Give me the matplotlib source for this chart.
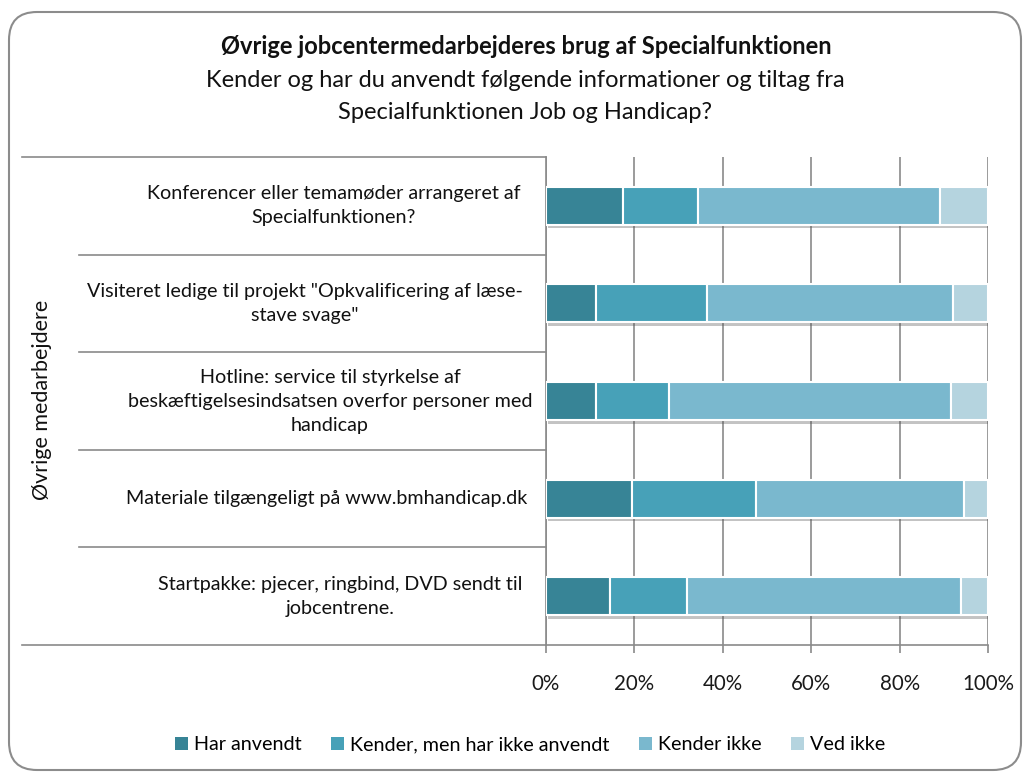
import matplotlib
matplotlib.use("Agg")
import matplotlib.pyplot as plt
import numpy as np
from matplotlib.patches import FancyBboxPatch, Patch
from matplotlib import patheffects as pe
import matplotlib.transforms as mtransforms

plt.rcParams['font.family'] = ['Lato', 'DejaVu Sans']

# ---- data ----
categories = [
    "Konferencer eller temamøder arrangeret af\nSpecialfunktionen?",
    "Visiteret ledige til projekt \"Opkvalificering af læse-\nstave svage\"",
    "Hotline: service til styrkelse af\nbeskæftigelsesindsatsen overfor personer med\nhandicap",
    "Materiale tilgængeligt på www.bmhandicap.dk",
    "Startpakke: pjecer, ringbind, DVD sendt til\njobcentrene.",
]
series_names = ["Har anvendt", "Kender, men har ikke anvendt", "Kender ikke", "Ved ikke"]
har_anvendt = [17.5, 11.4, 11.4, 19.5, 14.5]
kender_ikke_anvendt = [17.0, 25.0, 16.5, 28.0, 17.3]
kender_ikke = [54.6, 55.7, 63.8, 47.0, 62.0]
ved_ikke = [10.9, 7.9, 8.3, 5.5, 6.2]
tick_values = [0, 20, 40, 60, 80, 100]
tick_labels = ["0%", "20%", "40%", "60%", "80%", "100%"]
group_label = "Øvrige medarbejdere"
title = "Øvrige jobcentermedarbejderes brug af Specialfunktionen"
subtitle = "Kender og har du anvendt følgende informationer og tiltag fra\nSpecialfunktionen Job og Handicap?"

colors = ["#378496", "#47A1B8", "#7AB8CE", "#B5D4DF"]
label_centers_px = [334, 305, 330, 327, 340]

FS = 14.2
W, H = 1029, 773
fig = plt.figure(figsize=(W / 100, H / 100), dpi=100)

# background overlay in pixel coords
bg = fig.add_axes([0, 0, 1, 1], zorder=0)
bg.set_xlim(0, W)
bg.set_ylim(H, 0)
bg.axis("off")
box = FancyBboxPatch((9, 12), 1012, 758, boxstyle="round,pad=0,rounding_size=28",
                     fc="white", ec="#8c8c8c", lw=1.5)
bg.add_patch(box)

ax = fig.add_axes([546 / W, 1 - 645 / H, 442 / W, 488 / H], zorder=1)
ax.set_facecolor("none")

y = np.arange(len(categories))
data = [har_anvendt, kender_ikke_anvendt, kender_ikke, ved_ikke]
left = np.zeros(len(categories))
shadow = [pe.SimplePatchShadow(offset=(1.5, -2.5), alpha=0.35, shadow_rgbFace="#555555"), pe.Normal()]
for vals, name, c in zip(data, series_names, colors):
    bars = ax.barh(y, vals, left=left, height=0.39, color=c, edgecolor="white",
                   linewidth=1.5, zorder=3)
    for b in bars:
        b.set_path_effects(shadow)
    left = left + np.array(vals)

ax.set_xlim(0, 100)
ax.set_ylim(len(categories) - 0.5, -0.5)
ax.set_xticks(tick_values)
ax.set_xticklabels(tick_labels, fontsize=14.8, color="#1a1a1a")
ax.set_yticks([])
ax.grid(axis="x", color="#8a8a8a", lw=1.2, zorder=0)
ax.tick_params(axis="x", length=6, width=1.2, color="#8a8a8a", pad=15)
for s in ["top", "right"]:
    ax.spines[s].set_visible(False)
for s in ["left", "bottom"]:
    ax.spines[s].set_color("#8a8a8a")
    ax.spines[s].set_linewidth(1.2)

# category separator lines (x in axes coords, y in data)
trans = mtransforms.blended_transform_factory(ax.transAxes, ax.transData)
bounds = np.arange(len(categories) + 1) - 0.5
for i, b in enumerate(bounds):
    x0 = (22 - 546) / 442 if i in (0, len(bounds) - 1) else (79 - 546) / 442
    ax.plot([x0, 0], [b, b], transform=trans, color="#8a8a8a", lw=1.2, clip_on=False, zorder=2)

# category labels
for yi, lab, cx in zip(y, categories, label_centers_px):
    ax.text((cx - 546) / 442, yi, lab, transform=trans, ha="center", va="center",
            multialignment="center", fontsize=FS, color="#111111", linespacing=1.5)

fig.text(42 / W, 1 - 400 / H, group_label, rotation=90, ha="center", va="center",
         fontsize=15.5, color="#111111")

fig.text(526 / W, 1 - 47 / H, title, ha="center", va="center", fontsize=17,
         fontweight="bold", color="#111111")
fig.text(525 / W, 1 - 96.5 / H, subtitle, ha="center", va="center", fontsize=17,
         color="#111111", linespacing=1.63)

handles = [Patch(facecolor=c, edgecolor="none") for c in colors]
leg = fig.legend(handles, series_names, loc="center", bbox_to_anchor=(530 / W, 1 - 745 / H),
                 ncol=4, frameon=False, fontsize=FS, handlelength=0.65, handleheight=0.65,
                 handletextpad=0.3, columnspacing=1.5)

fig.savefig("out.png", dpi=100)
